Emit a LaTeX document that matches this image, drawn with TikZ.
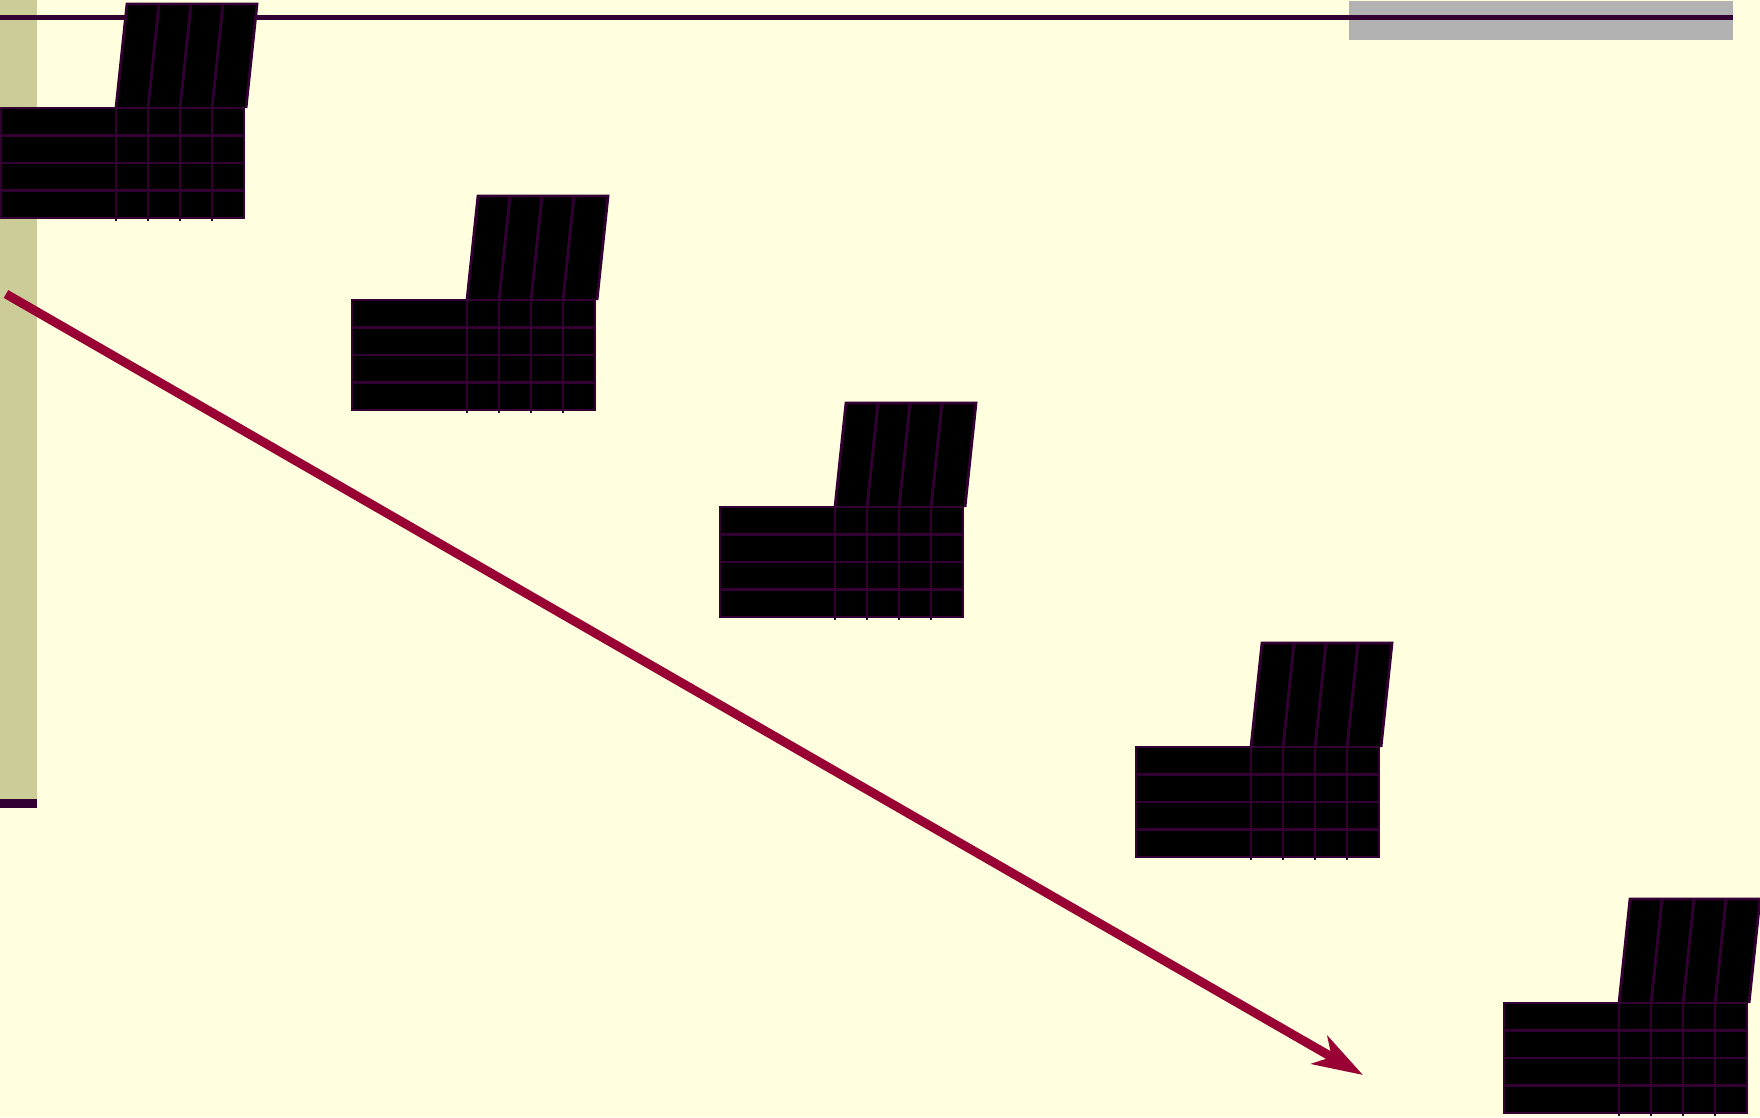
\documentclass[tikz,border=0pt]{standalone}
\usepackage{xcolor}
\usepackage{tikz}
\usetikzlibrary{arrows.meta}
\definecolor{paper}{HTML}{FFFFE0}
\definecolor{sand}{HTML}{CCCC99}
\definecolor{plum}{HTML}{330033}
\definecolor{wine}{HTML}{990033}
\definecolor{greybox}{HTML}{B2B2B2}

\begin{document}
\begin{tikzpicture}[
  x=1pt, y=-1pt,
  grid/.style={draw=plum, line width=2.8pt, line join=miter},
  rule/.style={draw=plum, line width=4.5pt},
  arrow/.style={-{Stealth[length=50pt, width=32pt, inset=14pt]}, draw=wine, line width=9pt},
  sheet/.pic={
    % tilted header
    \fill[black] (115,0) -- (126,-104) -- (256,-104) -- (245,0) -- cycle;
    \foreach \c in {147,179,211}
      \draw[grid] (\c,0) -- (\c+11,-104);
    \draw[grid] (115,0) -- (126,-104) -- (256,-104) -- (245,0);
    % table body
    \fill[black] (0,0) rectangle (243,110);
    \foreach \r in {27.5,55,82.5}
      \draw[grid] (0,\r) -- (243,\r);
    \foreach \c in {115,147,179,211}
      \draw[grid] (\c,0) -- (\c,113);
    \draw[grid] (0,0) rectangle (243,110);
  }
]

% Page
\useasboundingbox (0,0) rectangle (1760,1117);
\fill[paper] (0,0) rectangle (1760,1117);

% Side bar
\fill[sand] (0,0) rectangle (37,799);
\fill[plum] (0,799) rectangle (37,808);

% Top rule
\fill[greybox] (1349,1) rectangle (1733,40);
\draw[rule] (0,17.5) -- (1733,17.5);

% Sheets
\pic (s1) at (1,108) {sheet};
\pic (s2) at (352,300) {sheet};
\pic (s3) at (720,507) {sheet};
\pic (s4) at (1136,747) {sheet};
\pic (s5) at (1504,1003) {sheet};

% Arrow
\coordinate (start) at (6,294);
\coordinate (end) at (1363,1075);
\draw[arrow] (start) -- (end);

\end{tikzpicture}
\end{document}
